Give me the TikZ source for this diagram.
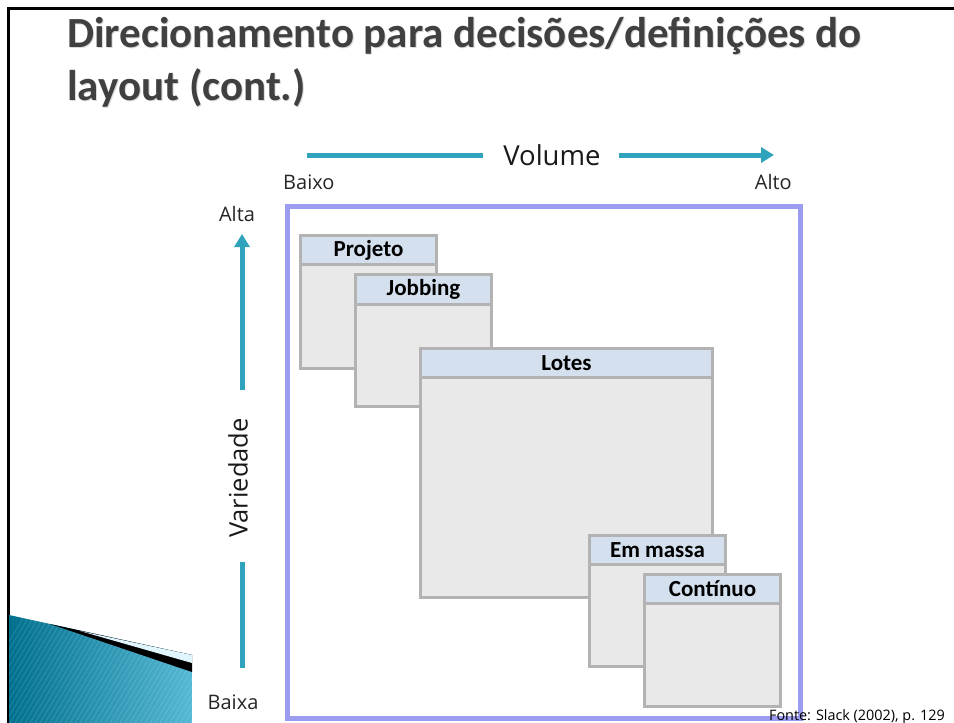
\documentclass[tikz,border=0pt]{standalone}
\usepackage{fontspec}
\setmainfont{Open Sans}
\newfontfamily\titlefont{Carlito}
\usetikzlibrary{arrows.meta,shadings}
\definecolor{teal1}{HTML}{2FA3BB}
\definecolor{purp}{HTML}{9C9CF0}
\definecolor{boxgray}{HTML}{B3B3B3}
\definecolor{bodyfill}{HTML}{E9E9E9}
\definecolor{headfill}{HTML}{D5E0EF}
\definecolor{titlegray}{HTML}{404040}
\definecolor{wedgedark}{HTML}{00708E}
\definecolor{wedgelight}{HTML}{55B8D4}
\tikzset{
  boxbody/.style={draw=boxgray, line width=3pt, fill=bodyfill, rectangle, anchor=north west, inner sep=0pt},
  boxhead/.style={draw=boxgray, line width=3pt, fill=headfill, rectangle, anchor=north west, inner sep=0pt, font=\titlefont\bfseries\fontsize{23}{26}\selectfont},
  axisline/.style={draw=teal1, line width=5pt},
  axistip/.style={-{Triangle[length=13pt,width=15pt]}},
  axlabel/.style={font=\fontsize{20}{23}\selectfont, text=black!85, inner sep=0pt},
  titletext/.style={anchor=base west, inner sep=0pt, font=\titlefont\bfseries\fontsize{43}{48}\selectfont},
}
\newcommand{\procbox}[7]{%
  \node[boxbody, minimum width=#4pt, minimum height=#5pt] (#1body) at (#2,#3) {};
  \node[boxhead, minimum width=#4pt, minimum height=#6pt] (#1) at (#2,#3) {#7};
}
\begin{document}
\begin{tikzpicture}[x=1pt,y=-1pt]
\useasboundingbox (0,0) rectangle (954,723);
\fill[white] (0,0) rectangle (954,723);
% slide frame
\draw[black, line width=3pt] (954,8) -- (8,8) -- (8,723);
% bottom-left decoration
\begin{scope}
  \clip (9,615) -- (192,655) -- (192,723) -- (9,723) -- cycle;
  \shade[left color=wedgedark, right color=wedgelight] (9,610) rectangle (192,723);
  \foreach \i in {0,...,60} {
    \draw[white, opacity=0.12, line width=1pt] ({-40+5*\i},723) -- ({40+5*\i},590);
  }
\end{scope}
\fill[black] (50,624) -- (192,655) -- (192,672) -- cycle;
\fill[cyan!12] (80,631) -- (192,655) -- (192,663) -- cycle;
% title
\node[titletext, text=black!15] at (68,48) {Direcionamento para decisões/definições do};
\node[titletext, text=black!15] at (68,101) {layout (cont.)};
\node[titletext, text=titlegray] (title1) at (67,47) {Direcionamento para decisões/definições do};
\node[titletext, text=titlegray] (title2) at (67,100) {layout (cont.)};
% frame of diagram
\draw[purp, line width=5pt] (287,206) rectangle (800,718);
% volume axis
\node[font=\fontsize{27.5}{30}\selectfont, text=black!90, inner sep=0pt] (volume) at (552,155) {Volume};
\coordinate (vstart) at (307,155);
\coordinate (vend) at (774,155);
\draw[axisline] (vstart) -- (483,155);
\draw[axisline, axistip] (619,155) -- (vend);
\node[axlabel, anchor=base west] (baixo) at (283,189) {Baixo};
\node[axlabel, anchor=base east] (alto) at (792,189) {Alto};
% variety axis
\node[font=\fontsize{25.5}{28}\selectfont, text=black!90, inner sep=0pt, rotate=90] (variedade) at (238,478) {Variedade};
\coordinate (ustart) at (242,390);
\coordinate (uend) at (242,234);
\draw[axisline, axistip] (ustart) -- (uend);
\draw[axisline] (242,562) -- (242,668);
\node[axlabel] (alta) at (237,214) {Alta};
\node[axlabel] (baixa) at (233,702) {Baixa};
% process boxes
\procbox{projeto}{299}{234}{136}{133}{29}{Projeto}
\procbox{jobbing}{354}{273}{136}{132}{30}{Jobbing}
\procbox{lotes}{419}{347}{292}{249}{29}{Lotes}
\procbox{emmassa}{588}{534}{136}{131}{29}{Em massa}
\procbox{continuo}{643}{573}{136}{132}{29}{Contínuo}
% source
\node[anchor=base east, inner sep=0pt, font=\fontsize{14.4}{16}\selectfont] (fonte) at (945,720) {Fonte: Slack (2002), p. 129};
\end{tikzpicture}
\end{document}
